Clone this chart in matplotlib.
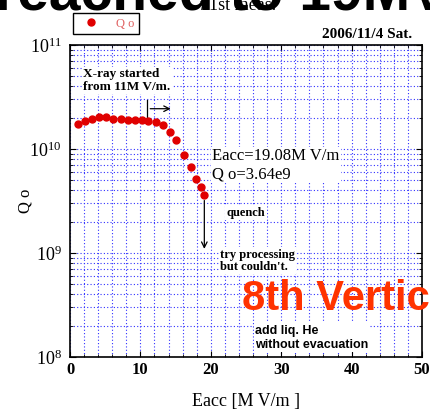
import numpy as np
import matplotlib.pyplot as plt
from matplotlib.ticker import MultipleLocator, LogLocator, NullFormatter

plt.rcParams['font.family'] = ['Liberation Serif', 'DejaVu Serif']
plt.rcParams['mathtext.fontset'] = 'custom'
plt.rcParams['mathtext.rm'] = 'Liberation Serif'

# measured points (Eacc [MV/m], Qo)
eacc = [1.09, 2.13, 3.12, 4.12, 5.11, 6.16, 7.20, 8.19, 9.18, 10.18,
        11.13, 12.17, 13.16, 14.16, 15.06, 16.19, 17.14, 17.94, 18.56, 19.08]
qo = [1.74e10, 1.87e10, 1.95e10, 2.02e10, 2.02e10, 1.93e10, 1.95e10, 1.90e10, 1.89e10, 1.91e10,
      1.87e10, 1.81e10, 1.69e10, 1.45e10, 1.22e10, 8.75e9, 6.67e9, 5.12e9, 4.28e9, 3.64e9]

x_ticks = [0, 10, 20, 30, 40, 50]

fig = plt.figure(figsize=(4.3, 4.11), dpi=100)

# heading cut off at top of the original picture
fig.text(-0.012, 1 - 10 / 411, 'reached to 19MV/m', fontsize=41, fontweight='bold',
         family='Liberation Sans', ha='left', va='baseline')
fig.text(200 / 430, 1 - 10 / 411, '#1st meas.', fontsize=13, ha='left', va='baseline')

ax = fig.add_axes([0.1628, 0.1314, 0.8186, 0.7591])

ax.semilogy(eacc, qo, 'o', color='#e00000', markersize=5, label='Q o', zorder=5)

ax.set_xlim(0, 50)
ax.set_ylim(1e8, 1e11)
ax.set_xticks(x_ticks)
ax.xaxis.set_minor_locator(MultipleLocator(2))
ax.yaxis.set_minor_locator(LogLocator(base=10, subs=np.arange(2, 10)))
ax.yaxis.set_minor_formatter(NullFormatter())

ax.grid(True, which='both', color='#3030ff', linestyle=(0, (1, 2)), linewidth=0.8)
ax.tick_params(which='both', direction='in', top=True, right=True)
ax.tick_params(which='major', length=4)
ax.tick_params(which='minor', length=2)
ax.tick_params(axis='x', labelsize=12)
ax.tick_params(axis='y', labelsize=13, pad=6)
for lab in ax.get_xticklabels():
    lab.set_fontweight('bold')
for s in ax.spines.values():
    s.set_linewidth(1.2)

ax.set_xlabel('Eacc [M V/m ]', fontsize=13, labelpad=11)
ax.set_ylabel('Q o', fontsize=12)
ax.yaxis.set_label_coords(-0.105, 0.5)

leg = ax.legend(loc='lower left', bbox_to_anchor=(0.008, 1.035), fancybox=False,
                edgecolor='black', fontsize=9, handletextpad=0.9, borderpad=0.35,
                borderaxespad=0, framealpha=1, handlelength=2.2)
for t in leg.get_texts():
    t.set_color('#e06060')
leg.get_frame().set_linewidth(1.0)
leg.set_zorder(10)

box = dict(facecolor='white', edgecolor='none', pad=1)

# X-ray onset marker
ax.plot([11, 11], [1.79e10, 2.96e10], color='black', lw=0.9)
ax.annotate('', xy=(14.7, 2.44e10), xytext=(11, 2.44e10),
            arrowprops=dict(arrowstyle='->', color='black', lw=0.9))
ax.text(1.85, 6.0e10, 'X-ray started\nfrom 11M V/m.', fontsize=9.5, fontweight='bold',
        va='top', ha='left', bbox=box, linespacing=1.05)

# quench arrow
ax.annotate('', xy=(19.08, 1.03e9), xytext=(19.08, 3.4e9),
            arrowprops=dict(arrowstyle='->', color='black', lw=0.9))

ax.text(20.2, 7.0e9, 'Eacc=19.08M V/m\nQ o=3.64e9', fontsize=12, va='center',
        ha='left', bbox=box, linespacing=1.15)
ax.text(22.25, 2.44e9, 'quench', fontsize=9, fontweight='bold', va='center',
        ha='left', bbox=box)
ax.text(21.3, 8.4e8, "try processing\nbut couldn't.", fontsize=9, fontweight='bold',
        va='center', ha='left', bbox=box, linespacing=1.0)
ax.text(24.4, 2.83e8, '8th Vertical', fontsize=30, fontweight='bold',
        family='Liberation Sans', color='#ff3300', va='baseline', ha='left',
        clip_on=False)
ax.text(26.3, 1.53e8, 'add liq. He\nwithout evacuation', fontsize=9, fontweight='bold',
        family='Liberation Sans', va='center', ha='left', bbox=box, linespacing=1.25)

fig.text(412 / 430, 1 - 35 / 411, '2006/11/4 Sat.', fontsize=11, fontweight='bold',
         ha='right', va='center')

fig.savefig('out.png', dpi=100)
